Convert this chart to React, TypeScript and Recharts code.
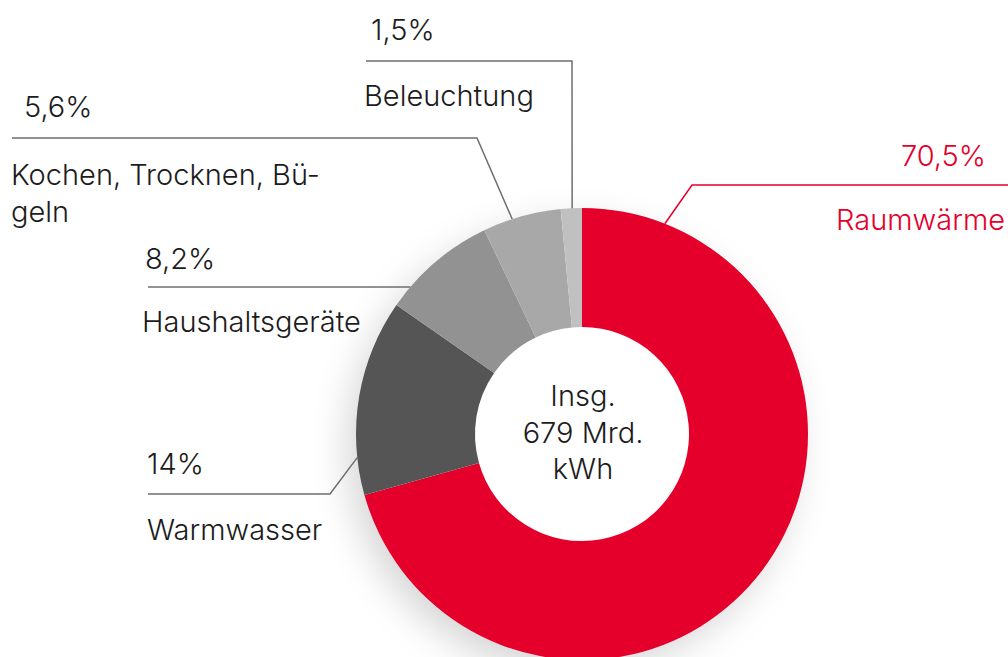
import React from 'react';
import { PieChart, Pie, Cell } from 'recharts';

// ---- data ----
const categories = ['Raumwärme', 'Warmwasser', 'Haushaltsgeräte', 'Kochen, Trocknen, Bügeln', 'Beleuchtung'];
const shares = [70.5, 14, 8.2, 5.6, 1.5];
const shareLabels = ['70,5%', '14%', '8,2%', '5,6%', '1,5%'];
const nameLines = [['Raumwärme'], ['Warmwasser'], ['Haushaltsgeräte'], ['Kochen, Trocknen, Bü-', 'geln'], ['Beleuchtung']];
const totalLines = ['Insg.', '679 Mrd.', 'kWh'];

// ---- styles / layout ----
const colors = ['#E4002B', '#555555', '#929292', '#A8A8A8', '#C0C0C0'];
const RED = '#E4002B';
const TEXT = '#1c1c1c';
const LINE = '#6e6e6e';
const FONT = 'Inter, "Noto Sans", sans-serif';
const FS = 29;

type LabelLayout = {
  angle: number;
  elbow: [number, number] | null;
  end: [number, number];
  anchor: 'start' | 'end';
  pct: [number, number];
  name: [number, number];
  lineGap: number;
  red?: boolean;
};

const labelLayout: LabelLayout[] = [
  { angle: 21.5, elbow: [692, 185], end: [1010, 185], anchor: 'end', pct: [986, 166], name: [1005, 230], lineGap: 37, red: true },
  { angle: -96, elbow: [330, 494], end: [148, 494], anchor: 'start', pct: [147, 474], name: [147, 540], lineGap: 37 },
  { angle: -49.4, elbow: null, end: [148, 287], anchor: 'start', pct: [145, 269], name: [142, 332], lineGap: 37 },
  { angle: -18, elbow: [477, 138], end: [12, 138], anchor: 'start', pct: [24, 117], name: [11, 185], lineGap: 37 },
  { angle: -2.5, elbow: [572, 61], end: [366, 61], anchor: 'start', pct: [371, 40], name: [364, 106], lineGap: 37 },
];

const centerOffsets = [-28, 9, 45];

const data = categories.map((c, i) => ({ name: c, value: shares[i] }));

const renderLabel = (props: any) => {
  const { cx, cy, outerRadius, index } = props;
  const L = labelLayout[index];
  const rad = (L.angle * Math.PI) / 180;
  const ax = cx + outerRadius * Math.sin(rad);
  const ay = cy - outerRadius * Math.cos(rad);
  const pts: [number, number][] = [[ax, ay]];
  if (L.elbow) pts.push(L.elbow);
  pts.push(L.end);
  const color = L.red ? RED : TEXT;
  const stroke = L.red ? RED : LINE;
  return (
    <g key={`lbl-${index}`}>
      <polyline points={pts.map((p) => p.join(',')).join(' ')} fill="none" stroke={stroke} strokeWidth={1.5} />
      <text x={L.pct[0]} y={L.pct[1]} textAnchor={L.anchor} fill={color} fontFamily={FONT} fontSize={FS} fontWeight={300}>
        {shareLabels[index]}
      </text>
      {nameLines[index].map((t, j) => (
        <text key={j} x={L.name[0]} y={L.name[1] + j * L.lineGap} textAnchor={L.anchor} fill={color} fontFamily={FONT} fontSize={FS} fontWeight={300}>
          {t}
        </text>
      ))}
      {index === 0 &&
        totalLines.map((t, j) => (
          <text key={`c${j}`} x={cx + 1} y={cy + centerOffsets[j]} textAnchor="middle" fill={TEXT} fontFamily={FONT} fontSize={FS} fontWeight={300}>
            {t}
          </text>
        ))}
    </g>
  );
};

export default function App() {
  return (
    <div style={{ position: 'absolute', left: 0, top: 0, width: 1008, height: 657, background: '#fff', overflow: 'hidden' }}>
      <style>{`
        g.recharts-pie:has(.donut-shadow), g.recharts-pie.donut-shadow { filter: drop-shadow(-10px 14px 18px rgba(0,0,0,0.16)); }
      `}</style>
      <PieChart width={1008} height={657} margin={{ top: 0, right: 0, bottom: 0, left: 0 }}>
        <Pie
          className="donut-shadow"
          data={data}
          dataKey="value"
          cx={582}
          cy={434}
          innerRadius={0}
          outerRadius={224}
          startAngle={90}
          endAngle={-270}
          isAnimationActive={false}
        >
          {data.map((d) => (
            <Cell key={d.name} fill="#ffffff" stroke="#ffffff" strokeWidth={2} />
          ))}
        </Pie>
        <Pie
          data={data}
          dataKey="value"
          cx={582}
          cy={434}
          innerRadius={107}
          outerRadius={226}
          startAngle={90}
          endAngle={-270}
          stroke="none"
          label={renderLabel}
          labelLine={false}
          isAnimationActive={false}
        >
          {data.map((d, i) => (
            <Cell key={d.name} fill={colors[i]} stroke="none" />
          ))}
        </Pie>
      </PieChart>
    </div>
  );
}
